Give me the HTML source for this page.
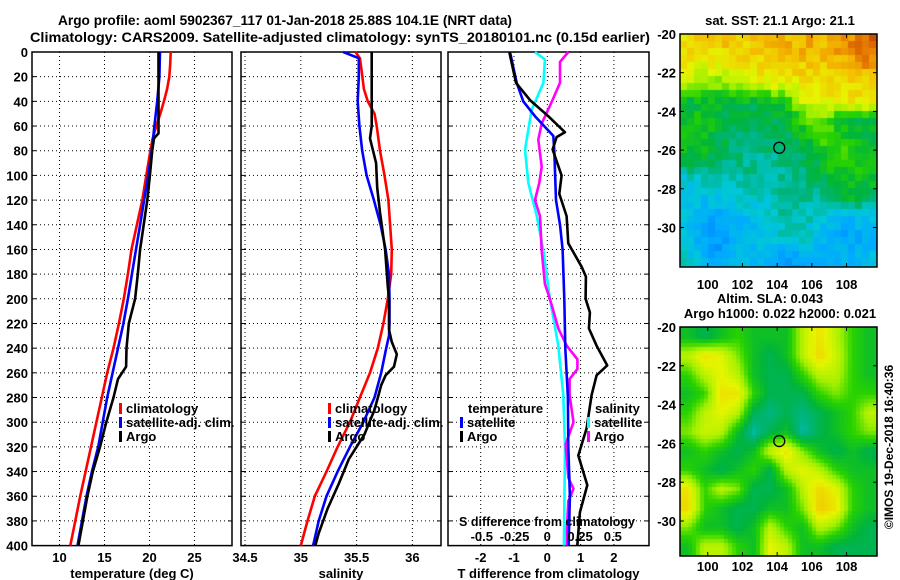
<!DOCTYPE html>
<html><head><meta charset="utf-8">
<style>
html,body{margin:0;padding:0;background:#fff;}
#wrap{position:relative;width:900px;height:580px;overflow:hidden;background:#fff;}
svg text{font-family:"Liberation Sans",Arial,sans-serif;font-weight:bold;fill:#000;}
canvas{position:absolute;}
</style></head>
<body>
<div id="wrap">
<canvas id="sst" width="197" height="233" style="left:680px;top:34px"></canvas>
<canvas id="sla" width="197" height="229" style="left:680px;top:327px"></canvas>
<svg id="fig" width="900" height="580" style="position:absolute;left:0;top:0"></svg>
</div>
<script>
// ---------- data ----------
const tClimDepth=[0,10,20,30,40,50,60,70,80,100,120,140,160,180,200,220,240,260,280,300,320,340,360,380,400];
const tClimVal=[22.35,22.3,22.2,21.95,21.6,21.2,20.75,20.35,20.1,19.65,19.2,18.6,18.0,17.6,17.15,16.6,16.0,15.3,14.7,14.1,13.5,12.9,12.3,11.75,11.2];
const tSatDepth=[0,20,40,60,80,100,120,140,160,180,200,220,240,260,280,300,320,340,360,380,400];
const tSatVal=[21.17,21.1,20.85,20.55,20.25,19.85,19.4,18.95,18.5,18.05,17.6,17.1,16.5,15.9,15.3,14.8,14.3,13.6,13.0,12.5,12.0];
const tArgoDepth=[0,20,40,60,66,70,80,100,120,140,160,180,200,220,240,255,265,280,300,320,340,360,380,400];
const tArgoVal=[21.0,21.0,21.0,21.0,21.0,20.5,20.3,20.05,19.75,19.35,18.95,18.7,18.4,17.7,17.45,17.4,16.5,16.0,15.2,14.5,13.7,13.1,12.6,12.1];

const sClimDepth=[0,5,15,30,40,50,60,80,100,120,140,160,180,200,220,240,260,280,300,320,340,360,380,400];
const sClimVal=[35.49,35.53,35.545,35.565,35.6,35.66,35.68,35.71,35.75,35.785,35.80,35.815,35.81,35.78,35.74,35.69,35.62,35.53,35.44,35.33,35.23,35.125,35.06,35.0];
const sSatDepth=[0,5,20,40,60,80,100,120,140,160,180,200,220,230,240,260,280,300,320,340,360,380,400];
const sSatVal=[35.38,35.52,35.52,35.51,35.525,35.55,35.59,35.655,35.715,35.76,35.79,35.795,35.795,35.79,35.765,35.72,35.66,35.56,35.44,35.33,35.23,35.16,35.11];
const sArgoDepth=[0,60,70,90,110,130,160,190,200,225,235,245,255,262,270,290,310,330,350,370,390,400];
const sArgoVal=[35.635,35.635,35.62,35.675,35.685,35.71,35.755,35.78,35.79,35.79,35.815,35.86,35.835,35.76,35.72,35.66,35.57,35.43,35.34,35.24,35.16,35.13];

const dTSatDepth=[0,25,40,52,68,80,120,140,160,200,240,280,320,360,400];
const dTSatVal=[-1.12,-0.92,-0.72,-0.37,0.18,0.21,0.26,0.38,0.46,0.51,0.54,0.62,0.63,0.68,0.64];
const dTArgoDepth=[0,25,39,52,65,69,79,100,115,133,155,174,182,200,211,224,238,254,262,278,305,327,351,373,400];
const dTArgoVal=[-1.14,-0.94,-0.52,0.03,0.53,0.28,0.16,0.43,0.36,0.58,0.63,1.03,1.16,1.15,1.28,1.25,1.48,1.8,1.48,1.33,1.18,0.93,1.2,0.98,0.9];
const dSSatDepth=[0,6,25,47,79,106,133,161,200,238,278,320,400];
const dSSatVal=[-0.094,-0.018,-0.03,-0.12,-0.17,-0.145,-0.08,-0.03,0.02,0.084,0.122,0.135,0.127];
const dSArgoDepth=[0,8,25,39,58,71,93,106,120,133,161,188,200,224,238,249,257,265,278,300,318,345,354,364,386,400];
const dSArgoVal=[0.16,0.097,0.097,0.04,-0.043,-0.069,-0.043,-0.061,-0.094,-0.056,-0.043,-0.018,0.02,0.084,0.148,0.23,0.23,0.17,0.17,0.2,0.14,0.16,0.2,0.16,0.15,0.15];

const depthTicks=[0,20,40,60,80,100,120,140,160,180,200,220,240,260,280,300,320,340,360,380,400];
const tTicks=[10,15,20,25];
const sTicks=[34.5,35,35.5,36];
const dTTicks=[-2,-1,0,1,2];
const dSTicks=[-0.5,-0.25,0,0.25,0.5];
const dSTickLabels=["-0.5","-0.25","0","0.25","0.5"];
const lonTicks=[100,102,104,106,108];
const latTicks=[-20,-22,-24,-26,-28,-30];

const sstGrid=[
[0.8,0.8,0.82,0.82,0.82,0.85,0.85,0.85,0.85,0.87,0.9,0.95],
[0.78,0.76,0.75,0.78,0.8,0.8,0.8,0.82,0.82,0.85,0.88,0.9],
[0.68,0.66,0.66,0.7,0.74,0.76,0.77,0.78,0.78,0.78,0.8,0.8],
[0.52,0.55,0.52,0.52,0.52,0.55,0.58,0.72,0.76,0.76,0.78,0.78],
[0.55,0.56,0.5,0.5,0.5,0.5,0.52,0.6,0.66,0.55,0.52,0.52],
[0.54,0.55,0.5,0.47,0.45,0.45,0.48,0.52,0.6,0.6,0.56,0.52],
[0.52,0.52,0.48,0.45,0.44,0.44,0.45,0.48,0.52,0.58,0.6,0.55],
[0.38,0.4,0.4,0.42,0.44,0.43,0.44,0.45,0.5,0.55,0.55,0.55],
[0.35,0.33,0.35,0.38,0.4,0.4,0.42,0.44,0.42,0.5,0.52,0.45],
[0.35,0.3,0.28,0.3,0.33,0.38,0.42,0.42,0.35,0.32,0.32,0.35],
[0.35,0.28,0.25,0.3,0.35,0.38,0.4,0.42,0.32,0.28,0.28,0.3],
[0.38,0.3,0.28,0.32,0.32,0.3,0.25,0.28,0.28,0.3,0.32,0.35]];
const slaGrid=[
[0.55,0.5,0.55,0.6,0.55,0.55,0.55,0.7,0.78,0.7,0.6,0.55],
[0.7,0.78,0.75,0.65,0.55,0.5,0.55,0.7,0.8,0.72,0.6,0.55],
[0.6,0.7,0.75,0.7,0.55,0.5,0.5,0.6,0.7,0.7,0.6,0.55],
[0.55,0.6,0.78,0.78,0.6,0.5,0.5,0.5,0.6,0.65,0.6,0.6],
[0.6,0.7,0.75,0.7,0.5,0.45,0.5,0.45,0.5,0.55,0.6,0.7],
[0.65,0.72,0.7,0.55,0.42,0.5,0.55,0.42,0.5,0.55,0.6,0.65],
[0.55,0.6,0.55,0.5,0.55,0.72,0.78,0.65,0.55,0.5,0.55,0.5],
[0.6,0.55,0.5,0.55,0.6,0.5,0.7,0.75,0.7,0.6,0.55,0.55],
[0.78,0.6,0.7,0.65,0.5,0.5,0.55,0.7,0.8,0.75,0.6,0.55],
[0.8,0.6,0.55,0.5,0.5,0.55,0.55,0.65,0.82,0.78,0.6,0.55],
[0.65,0.55,0.55,0.5,0.55,0.7,0.6,0.55,0.7,0.65,0.55,0.5],
[0.55,0.7,0.7,0.6,0.55,0.75,0.7,0.55,0.55,0.5,0.5,0.5]];
const argoLon=104.12, argoLat=-25.88;

// ---------- axes ----------
const yD=d=>52+d*1.234;
const xT=t=>59.5+(t-10)*9;
const xS=s=>245+(s-34.5)*111.6;
const xdT=v=>547.3+v*33.3;
const xdS=v=>547.3+v*131;
const lonX=l=>680+(l-98.4)*17.35;
const lat1Y=a=>34+(-20-a)*19.35;
const lat2Y=a=>327+(-20-a)*19.4;

const NS="http://www.w3.org/2000/svg";
const svg=document.getElementById('fig');
function el(tag,attrs,parent){const e=document.createElementNS(NS,tag);for(const k in attrs)e.setAttribute(k,attrs[k]);(parent||svg).appendChild(e);return e;}
function txt(s,x,y,size,anchor,parent,len){const t=el('text',{x:x,y:y,'font-size':size,'text-anchor':anchor||'middle'},parent);t.textContent=s;if(len){t.setAttribute('textLength',len);t.setAttribute('lengthAdjust','spacingAndGlyphs');}return t;}

let t=txt("Argo profile: aoml 5902367_117 01-Jan-2018 25.88S 104.1E (NRT data)",285,25,14,'middle',null,454);


t=txt("Climatology: CARS2009. Satellite-adjusted climatology: synTS_20180101.nc (0.15d earlier)",340,42,14,'middle',null,620);



const panels=[
 {name:'temperature-panel',x0:32,x1:232,ticks:tTicks,xf:xT,labels:tTicks.map(String),title:'temperature (deg C)'},
 {name:'salinity-panel',x0:241,x1:441,ticks:sTicks,xf:xS,labels:sTicks.map(String),title:'salinity'},
 {name:'difference-panel',x0:448,x1:649,ticks:dTTicks,xf:xdT,labels:dTTicks.map(String),title:'T difference from climatology'}];
const yTop=yD(0), yBot=yD(400);
panels.forEach((p,i)=>{
  const g=el('g',{});
  
  
  depthTicks.forEach(d=>{
    if(d>0&&d<400) el('line',{x1:p.x0,x2:p.x1,y1:yD(d),y2:yD(d),stroke:'#000','stroke-width':1,'stroke-dasharray':'1,3'},g);
    el('line',{x1:p.x1-4,x2:p.x1,y1:yD(d),y2:yD(d),stroke:'#000','stroke-width':1},g);
    el('line',{x1:p.x0,x2:p.x0+4,y1:yD(d),y2:yD(d),stroke:'#000','stroke-width':1},g);
  });
  p.ticks.forEach((v,k)=>{
    const x=p.xf(v);
    el('line',{x1:x,x2:x,y1:yTop,y2:yBot,stroke:'#000','stroke-width':1,'stroke-dasharray':'1,3'},g);
    const tl=txt(p.labels[k],x,562,13,'middle',g);
    
    
  });
  const at=txt(p.title,(p.x0+p.x1)/2,578,13,'middle',g);
  
  
  el('rect',{x:p.x0,y:yTop,width:p.x1-p.x0,height:yBot-yTop,fill:'none',stroke:'#000','stroke-width':1.5},g);
});
depthTicks.forEach(d=>{
  const tl=txt(String(d),28,yD(d)+5,13,'end');
  
  
});

function series(depths,vals,xf,color,name){
  const pts=depths.map((d,i)=>xf(vals[i]).toFixed(1)+','+yD(d).toFixed(1)).join(' ');
  const pl=el('polyline',{points:pts,fill:'none',stroke:color,'stroke-width':2.6,'stroke-linejoin':'round'});
  
  
}
series(tClimDepth,tClimVal,xT,'#ff0000','temp-climatology-line');
series(tSatDepth,tSatVal,xT,'#0000ff','temp-satellite-line');
series(tArgoDepth,tArgoVal,xT,'#000000','temp-argo-line');
series(sClimDepth,sClimVal,xS,'#ff0000','sal-climatology-line');
series(sSatDepth,sSatVal,xS,'#0000ff','sal-satellite-line');
series(sArgoDepth,sArgoVal,xS,'#000000','sal-argo-line');
series(dSSatDepth,dSSatVal,xdS,'#00ffff','sdiff-satellite-line');
series(dSArgoDepth,dSArgoVal,xdS,'#ff00ff','sdiff-argo-line');
series(dTSatDepth,dTSatVal,xdT,'#0000ff','tdiff-satellite-line');
series(dTArgoDepth,dTArgoVal,xdT,'#000000','tdiff-argo-line');

t=txt("S difference from climatology",547,526,13,'middle',null,176);


dSTicks.forEach((v,k)=>{
  const tl=txt(dSTickLabels[k],xdS(v),541,13,'middle');
  
  
});

function legend(x,y,color,label,name){
  const g=el('g',{});
  
  
  el('rect',{x:x,y:y-10,width:3,height:11,fill:color},g);
  txt(label,x+7,y,13,'start',g);
}
legend(119,413,'#ff0000','climatology','legend-temp-climatology');
legend(119,427,'#0000ff','satellite-adj. clim.','legend-temp-satellite');
legend(119,441,'#000000','Argo','legend-temp-argo');
legend(328,413,'#ff0000','climatology','legend-sal-climatology');
legend(328,427,'#0000ff','satellite-adj. clim.','legend-sal-satellite');
legend(328,441,'#000000','Argo','legend-sal-argo');
t=txt('temperature',468,413,13,'start');


legend(460,427,'#0000ff','satellite','legend-tdiff-satellite');
legend(460,441,'#000000','Argo','legend-tdiff-argo');
t=txt('salinity',595,413,13,'start');


legend(587,427,'#00ffff','satellite','legend-sdiff-satellite');
legend(587,441,'#ff00ff','Argo','legend-sdiff-argo');

// ---------- maps ----------
const stops=[[0,[0,40,170]],[0.15,[0,100,255]],[0.28,[0,170,255]],[0.38,[0,200,215]],[0.45,[0,180,130]],[0.52,[0,180,60]],[0.6,[40,210,0]],[0.67,[160,240,0]],[0.75,[230,245,0]],[0.84,[245,190,0]],[0.92,[230,120,0]],[1,[190,60,0]]];
function cmap(v){v=Math.max(0,Math.min(1,v));for(let i=1;i<stops.length;i++){if(v<=stops[i][0]){const a=stops[i-1],b=stops[i],f=(v-a[0])/(b[0]-a[0]);return 'rgb('+a[1].map((c,k)=>Math.round(c+(b[1][k]-c)*f)).join(',')+')';}}return 'rgb(190,60,0)';}
function sample(grid,fx,fy){const n=grid.length,m=grid[0].length;let gx=fx*m-0.5,gy=fy*n-0.5;gx=Math.max(0,Math.min(m-1.001,gx));gy=Math.max(0,Math.min(n-1.001,gy));const i=Math.floor(gy),j=Math.floor(gx),u=gx-j,w=gy-i;return grid[i][j]*(1-u)*(1-w)+grid[i][j+1]*u*(1-w)+grid[i+1][j]*(1-u)*w+grid[i+1][j+1]*u*w;}
function hash(a,b){let h=(a*374761393+b*668265263)|0;h=(h^(h>>>13))*1274126177|0;return ((h^(h>>>16))>>>0)/4294967295;}
function drawMap(id,grid,cell,noise){
  const c=document.getElementById(id),ctx=c.getContext('2d');
  for(let y=0;y<c.height;y+=cell)for(let x=0;x<c.width;x+=cell){
    let v=sample(grid,(x+cell/2)/c.width,(y+cell/2)/c.height);
    if(noise) v+=(hash(x,y)-0.5)*noise;
    ctx.fillStyle=cmap(v);ctx.fillRect(x,y,cell,cell);
  }
}
drawMap('sst',sstGrid,7,0.08);
drawMap('sla',slaGrid,4,0);

function mapAxes(name,top,bottom,latY,lonLabY){
  const g=el('g',{});
  
  
  el('rect',{x:680,y:top,width:197,height:bottom-top,fill:'none',stroke:'#000','stroke-width':1.5},g);
  lonTicks.forEach(l=>{const x=lonX(l);
    el('line',{x1:x,x2:x,y1:top,y2:top+4,stroke:'#000'},g);
    el('line',{x1:x,x2:x,y1:bottom-4,y2:bottom,stroke:'#000'},g);
    txt(String(l),x,lonLabY,13,'middle',g);});
  latTicks.forEach(a=>{const y=latY(a);
    el('line',{x1:680,x2:684,y1:y,y2:y,stroke:'#000'},g);
    el('line',{x1:873,x2:877,y1:y,y2:y,stroke:'#000'},g);
    txt(String(a),676,y+5,13,'end',g);});
  el('circle',{cx:lonX(argoLon),cy:latY(argoLat),r:5.5,fill:'none',stroke:'#000','stroke-width':1.3},g);
}
mapAxes('sst-map-axes',34,267,lat1Y,289);
mapAxes('sla-map-axes',327,556,lat2Y,571);
t=txt('sat. SST: 21.1 Argo: 21.1',780,25,13,'middle');


t=txt('Altim. SLA: 0.043',770,303,13,'middle');


t=txt('Argo h1000: 0.022 h2000: 0.021',780,318,13,'middle');


t=el('text',{x:0,y:0,'font-size':12,'text-anchor':'middle',transform:'translate(893,447) rotate(-90)'});
t.textContent='©IMOS 19-Dec-2018 16:40:36';


</script>
</body></html>
